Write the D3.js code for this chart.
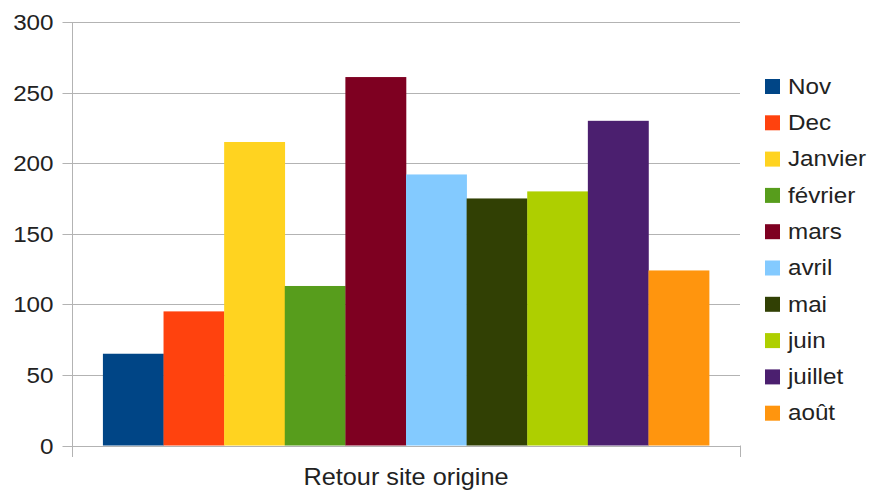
<!DOCTYPE html>
<html>
<head>
<meta charset="utf-8">
<style>
    body { margin: 0; background: #fff; }
    svg { font-family: 'Liberation Sans', Arial, sans-serif; }
    .grid line { stroke: #b3b3b3; stroke-width: 1; }
    .y .domain { display: none; }
    .y .tick line { stroke: #b3b3b3; }
    .y .tick text { font-size: 22px; fill: #222; }
</style>
</head>
<body>
<svg width="875" height="491"></svg>
<script src="https://d3js.org/d3.v7.min.js"></script>
<script>
    // data
    const category = ["Retour site origine"];
    const months = ["Nov", "Dec", "Janvier", "février", "mars", "avril", "mai", "juin", "juillet", "août"];
    const values = [65, 95, 215, 113, 261, 192, 175, 180, 230, 124];
    const colors = ["#004586", "#ff420e", "#ffd320", "#579d1c", "#7e0021", "#83caff", "#314004", "#aecf00", "#4b1f6f", "#ff950e"];
    const yTicks = [0, 50, 100, 150, 200, 250, 300];

    const margin = { top: 22, right: 135, bottom: 45, left: 72 };
    const width = 875, height = 491;
    const stretch = 1.1; // text in the picture is a bit wide

    const svg = d3.select("svg");

    const x0 = d3.scaleBand()
        .domain(category)
        .range([margin.left, width - margin.right])
        .paddingOuter(0.051)

    const x1 = d3.scaleBand()
        .domain(months)
        .range([0, x0.bandwidth()])

    const y = d3.scaleLinear()
        .domain([0, 300])
        .range([height - margin.bottom - 0.5, margin.top])

    // gridlines
    svg.append("g")
        .attr("class", "grid")
        .selectAll("line")
        .data(yTicks)
        .join("line")
        .attr("x1", margin.left)
        .attr("x2", width - margin.right)
        .attr("y1", d => Math.round(y(d)) + 0.5)
        .attr("y2", d => Math.round(y(d)) + 0.5)

    // bars
    svg.append("g")
        .selectAll("rect")
        .data(months)
        .join("rect")
        .attr("x", (d, i) => x0(category[0]) + x1(d))
        .attr("width", x1.bandwidth() + 0.3)
        .attr("y", (d, i) => y(values[i]))
        .attr("height", (d, i) => y(0) - y(values[i]))
        .attr("fill", (d, i) => colors[i])

    // y axis
    let yAxis = svg.append("g")
        .attr("class", "y axis")
        .attr("transform", `translate(${margin.left + 0.5},0)`)
        .call(d3.axisLeft(y).tickValues(yTicks).tickSize(10).tickPadding(9))

    yAxis.selectAll(".tick")
        .attr("transform", d => `translate(0,${Math.round(y(d)) + 0.5})`)

    yAxis.selectAll(".tick text")
        .attr("x", 0)
        .attr("transform", `translate(-19,0) scale(${stretch},1)`)

    // left and right vertical lines
    svg.append("line")
        .attr("x1", margin.left + 0.5).attr("x2", margin.left + 0.5)
        .attr("y1", margin.top).attr("y2", height - margin.bottom + 11)
        .style("stroke", "#b3b3b3")

    svg.append("line")
        .attr("x1", width - margin.right + 0.5).attr("x2", width - margin.right + 0.5)
        .attr("y1", y(0)).attr("y2", height - margin.bottom + 11)
        .style("stroke", "#b3b3b3")

    // category label
    svg.append("text")
        .attr("transform", `translate(${x0(category[0]) + x0.bandwidth() / 2},485) scale(${stretch},1)`)
        .attr("text-anchor", "middle")
        .style("font-size", "23px")
        .style("fill", "#222")
        .text(category[0])

    // legend
    const legend = svg.append("g")
        .selectAll("g")
        .data(months)
        .join("g")
        .attr("transform", (d, i) => `translate(765,${86 + i * 36.3})`)

    legend.append("rect")
        .attr("x", 0)
        .attr("y", -7)
        .attr("width", 15)
        .attr("height", 15)
        .attr("fill", (d, i) => colors[i])

    legend.append("text")
        .attr("transform", `translate(23,0) scale(${stretch},1)`)
        .attr("dy", "0.35em")
        .style("font-size", "22px")
        .style("fill", "#222")
        .text(d => d)
</script>
</body>
</html>
